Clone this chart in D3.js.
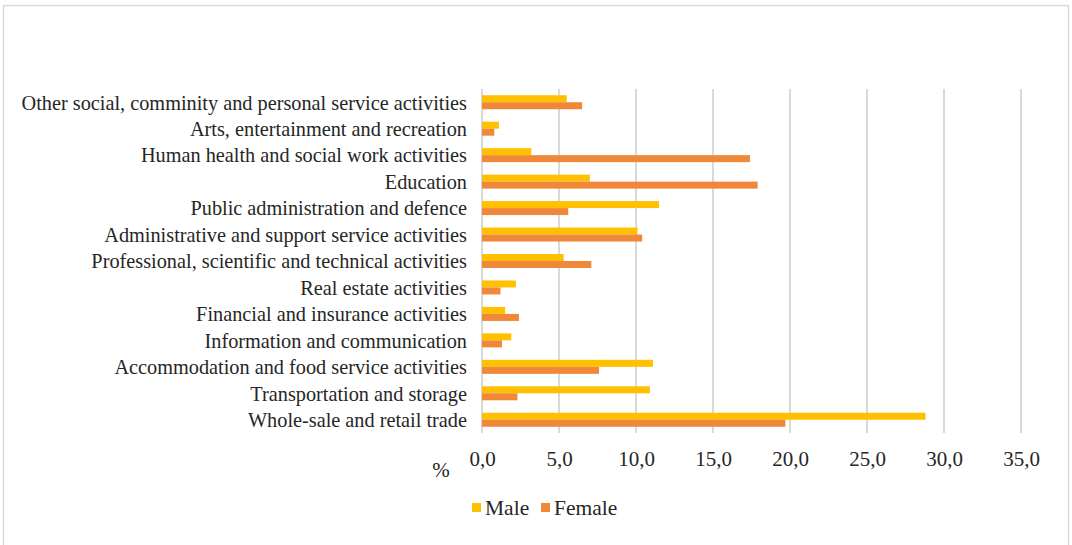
<!DOCTYPE html>
<html>
<head>
<meta charset="utf-8">
<script src="https://cdn.jsdelivr.net/npm/d3@7"></script>
<style>
  html, body { margin: 0; padding: 0; background: #fff; }
  svg { display: block; }
  text { font-family: "Liberation Serif", "Times New Roman", serif; fill: #262626; }
</style>
</head>
<body>
<svg id="chart" width="1072" height="545"></svg>
<script>
// Employment by economic activity and sex, %
const categories = [
  "Other social, comminity and personal service activities",
  "Arts, entertainment and recreation",
  "Human health and social work activities",
  "Education",
  "Public administration and defence",
  "Administrative and support service activities",
  "Professional, scientific and technical activities",
  "Real estate activities",
  "Financial and insurance activities",
  "Information and communication",
  "Accommodation and food service activities",
  "Transportation and storage",
  "Whole-sale and retail trade"
];
const male   = [5.5, 1.1, 3.2, 7.0, 11.5, 10.1, 5.3, 2.2, 1.5, 1.9, 11.1, 10.9, 28.8];
const female = [6.5, 0.8, 17.4, 17.9, 5.6, 10.4, 7.1, 1.2, 2.4, 1.3, 7.6, 2.3, 19.7];
const seriesNames = ["Male", "Female"];
const seriesColors = ["#FFC000", "#F0883A"];
const xTicks = [0, 5, 10, 15, 20, 25, 30, 35];

const svg = d3.select("#chart");

// outer chart frame
svg.append("rect")
  .attr("x", 3.5).attr("y", 5.5)
  .attr("width", 1065).attr("height", 545)
  .attr("fill", "none").attr("stroke", "#D9D9D9").attr("stroke-width", 1.5);

const x = d3.scaleLinear().domain([0, 35]).range([482, 1021]);
const y = d3.scaleBand().domain(categories).range([89, 433])
  .paddingInner(0.471).paddingOuter(0.2355);
const ySub = d3.scaleBand().domain(seriesNames).range([0, y.bandwidth()]);

// vertical gridlines (including the 0 baseline)
svg.append("g")
  .selectAll("line")
  .data(xTicks)
  .join("line")
  .attr("x1", d => x(d)).attr("x2", d => x(d))
  .attr("y1", 89).attr("y2", 433)
  .attr("stroke", "#D9D9D9").attr("stroke-width", 2);

// bars
const rows = categories.map((c, i) => ({ c, vals: [male[i], female[i]] }));
const groups = svg.append("g").selectAll("g")
  .data(rows)
  .join("g")
  .attr("transform", d => `translate(0,${y(d.c)})`);
groups.selectAll("rect")
  .data(d => d.vals.map((v, j) => ({ v, s: seriesNames[j], color: seriesColors[j] })))
  .join("rect")
  .attr("x", x(0))
  .attr("y", d => ySub(d.s))
  .attr("width", d => x(d.v) - x(0))
  .attr("height", ySub.bandwidth())
  .attr("fill", d => d.color);

// category labels
const yAxis = d3.axisLeft(y).tickSize(0).tickPadding(15);
const yG = svg.append("g").attr("transform", `translate(${x(0)},0)`).call(yAxis);
yG.select(".domain").remove();
yG.selectAll("text").attr("font-size", 20.3).attr("dy", "0.36em").attr("fill", "#262626")
  .style("font-family", '"Liberation Serif", serif');

// value axis labels
const fmt = d => d.toFixed(1).replace(".", ",");
const xAxis = d3.axisBottom(x).tickValues(xTicks).tickFormat(fmt).tickSize(0).tickPadding(0);
const xG = svg.append("g").attr("transform", "translate(0,451)").call(xAxis);
xG.select(".domain").remove();
xG.selectAll("text").attr("font-size", 21).attr("dy", "0.71em").attr("fill", "#262626")
  .style("font-family", '"Liberation Serif", serif');

// unit label
svg.append("text").attr("x", 441).attr("y", 477)
  .attr("text-anchor", "middle").attr("font-size", 21).text("%");

// legend
const legend = svg.append("g").attr("transform", "translate(472,503)");
const legendX = [0, 69];
seriesNames.forEach((name, i) => {
  const g = legend.append("g").attr("transform", `translate(${legendX[i]},0)`);
  g.append("rect").attr("width", 9).attr("height", 9).attr("fill", seriesColors[i]);
  g.append("text").attr("x", 13).attr("y", 4.5).attr("dy", "0.35em")
    .attr("font-size", 21.5).text(name);
});
</script>
</body>
</html>
